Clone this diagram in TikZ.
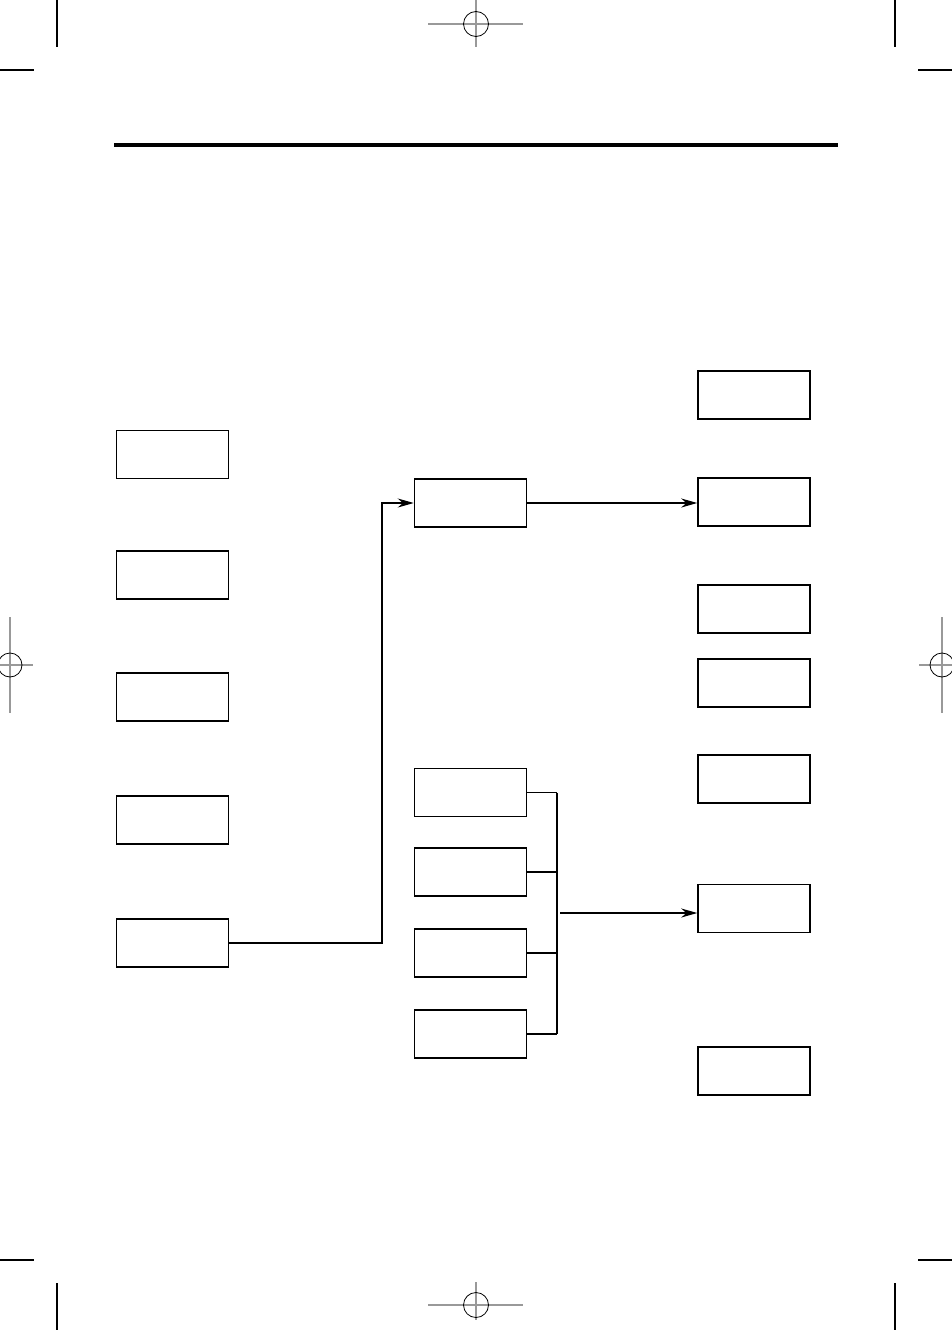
\documentclass[tikz,border=0pt]{standalone}
\usetikzlibrary{arrows.meta}
\begin{document}
\begin{tikzpicture}[x=1pt,y=-1pt,
  box/.style={draw=black,line width=1.5pt,minimum width=112pt,minimum height=48pt,inner sep=0pt},
  conn/.style={draw=black,line width=1.5pt},
  arr/.style={conn,-{Stealth[length=16pt,width=9pt]}},
  crop/.style={draw=black,line width=1.2pt},
  reg/.style={draw=black!40,line width=1.2pt},
  regc/.style={draw=black,line width=0.8pt}]
\useasboundingbox (0,0) rectangle (952,1330);
% crop marks
\draw[crop] (57,0) -- (57,47);
\draw[crop] (0,70) -- (34,70);
\draw[crop] (895,0) -- (895,47);
\draw[crop] (918,70) -- (952,70);
\draw[crop] (57,1283) -- (57,1330);
\draw[crop] (0,1260) -- (34,1260);
\draw[crop] (895,1283) -- (895,1330);
\draw[crop] (918,1260) -- (952,1260);
% registration marks
\draw[reg] (428,24) -- (523,24);
\draw[reg] (476,0) -- (476,47);
\draw[regc] (476,24) circle (12.5);
\draw[reg] (428,1305) -- (523,1305);
\draw[reg] (476,1282) -- (476,1320);
\draw[regc] (476,1305) circle (12.5);
\draw[reg] (0,665) -- (33,665);
\draw[reg] (10,617) -- (10,713);
\draw[regc] (10,665) circle (12);
\draw[reg] (919,665) -- (952,665);
\draw[reg] (942,617) -- (942,713);
\draw[regc] (942,665) circle (12);
% heading rule
\draw[black,line width=4pt] (114,145) -- (838,145);
% left column
\node[box] (L1) at (172.5,454.5) {};
\node[box] (L2) at (172.5,575) {};
\node[box] (L3) at (172.5,697) {};
\node[box] (L4) at (172.5,820) {};
\node[box] (L5) at (172.5,943) {};
% middle column
\node[box] (M1) at (470.5,503) {};
\node[box] (M2) at (470.5,792.5) {};
\node[box] (M3) at (470.5,872) {};
\node[box] (M4) at (470.5,953) {};
\node[box] (M5) at (470.5,1034) {};
% right column
\node[box] (R1) at (754,395) {};
\node[box] (R2) at (754,502) {};
\node[box] (R3) at (754,609) {};
\node[box] (R4) at (754,683) {};
\node[box] (R5) at (754,779) {};
\node[box] (R6) at (754,908.5) {};
\node[box] (R7) at (754,1071) {};
% connectors
\coordinate (turn) at (382,0);
\draw[arr] (L5.east) -- (L5.east -| turn) |- (M1.west);
\draw[arr] (M1.east) -- (M1.east -| R2.west);
\coordinate (bx) at (557,0);
\draw[conn] (M2.east) -- (M2.east -| bx);
\draw[conn] (M3.east) -- (M3.east -| bx);
\draw[conn] (M4.east) -- (M4.east -| bx);
\draw[conn] (M5.east) -- (M5.east -| bx);
\draw[conn] (M2.east -| bx) -- (M5.east -| bx);
\coordinate (bout) at (560,913);
\draw[arr] (bout) -- (bout -| R6.west);
\end{tikzpicture}
\end{document}
